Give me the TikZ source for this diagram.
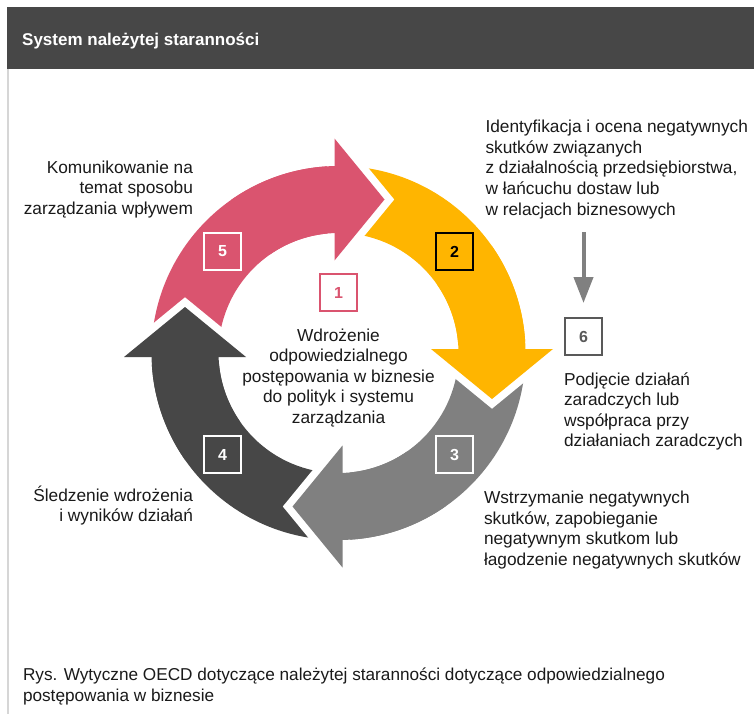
\documentclass[tikz,border=0pt]{standalone}
\usepackage{fontspec}
\setmainfont{Liberation Sans}
\usetikzlibrary{arrows.meta}
\definecolor{pinkc}{HTML}{DA546F}
\definecolor{yellowc}{HTML}{FFB500}
\definecolor{grayc}{HTML}{808080}
\definecolor{darkc}{HTML}{474747}
\definecolor{headc}{HTML}{474747}
\definecolor{textc}{HTML}{1A1A1A}
\definecolor{borderc}{HTML}{D6D6D6}
\definecolor{boxsix}{HTML}{595959}
\begin{document}
\begin{tikzpicture}[x=1pt,y=1pt,
  txt/.style={font=\fontsize{17.3}{20.6}\selectfont, text=textc, inner sep=0pt, outer sep=0pt},
  numbox/.style={draw, line width=2pt, minimum size=37pt, inner sep=0pt, font=\bfseries\fontsize{16}{16}\selectfont},
  headpath/.style={insert path={(-4,92.5) -- (-4,214.5) -- (46,153.5) -- cycle}},
  smallarrow/.style={draw=grayc, line width=4pt, -{Triangle[width=19pt,length=26pt]}}
]
\useasboundingbox (0,0) rectangle (754,-714);
\fill[white] (0,0) rectangle (754,-714);
% header
\fill[headc] (7,-7) rectangle (754,-69);
\node[anchor=base west, inner sep=0pt, text=white, font=\bfseries\fontsize{17}{20}\selectfont] (title) at (22,-45.7) {System należytej staranności};
\draw[borderc, line width=2pt] (8.3,-69) -- (8.3,-714);
% ring bodies
\foreach \k/\col in {0/pinkc,1/yellowc,2/grayc,3/darkc}{
  \fill[\col, shift={(338.5,-353)}, rotate=-90*\k]
    (180:187) arc[start angle=180, end angle=90, radius=187]
    -- (90:120) arc[start angle=90, end angle=180, radius=120] -- cycle;
}
% heads with white gaps
\foreach \k/\col in {0/pinkc,1/yellowc,2/grayc,3/darkc}{
  \begin{scope}[shift={(338.5,-353)}, rotate=-90*\k]
    \filldraw[white, line width=15pt, line join=miter, miter limit=10, headpath];
    \fill[\col, headpath];
    \fill[\col] (125:187) arc[start angle=125, end angle=90, radius=187]
      -- (90:120) arc[start angle=90, end angle=125, radius=120] -- cycle;
  \end{scope}
}
% number boxes
\node[numbox, draw=white, text=white] (b5) at (222.5,-251.5) {5};
\node[numbox, draw=black, text=black] (b2) at (454.5,-251.5) {2};
\node[numbox, draw=white, text=white] (b3) at (454.5,-454.5) {3};
\node[numbox, draw=white, text=white] (b4) at (222.5,-454.5) {4};
\node[numbox, draw=pinkc, text=pinkc] (b1) at (338.5,-292.5) {1};
\node[numbox, draw=boxsix, text=boxsix] (b6) at (583.5,-336.5) {6};
% small arrow to 6
\coordinate (a6top) at (583.5,-232);
\draw[smallarrow] (a6top) -- ([yshift=14pt]b6.north);
% texts
\node[txt, anchor=north east, align=right] (t5) at (193,-173)
  {\smash{Komunikowanie na}\\temat sposobu\\zarządzania wpływem};
\node[txt, anchor=north west, align=left] (t2) at (485.5,-132.7)
  {\smash{Identyfikacja i ocena negatywnych}\\skutków związanych\\z działalnością przedsiębiorstwa,\\w łańcuchu dostaw lub\\w relacjach biznesowych};
\node[txt, anchor=north west, align=left] (t6) at (564,-385)
  {\smash{Podjęcie działań}\\zaradczych lub\\współpraca przy\\działaniach zaradczych};
\node[txt, anchor=north west, align=left] (t3) at (484,-503.5)
  {\smash{Wstrzymanie negatywnych}\\skutków, zapobieganie\\negatywnym skutkom lub\\łagodzenie negatywnych skutków};
\node[txt, anchor=north east, align=right] (t4) at (193,-501)
  {\smash{Śledzenie wdrożenia}\\i wyników działań};
\node[txt, anchor=north, align=center] (t1) at (338.5,-341)
  {\smash{Wdrożenie}\\odpowiedzialnego\\postępowania w biznesie\\do polityk i systemu\\zarządzania};
\node[txt, anchor=north west, align=left, font=\fontsize{17.2}{21.8}\selectfont] (cap) at (23,-680)
  {\smash{Rys. Wytyczne OECD dotyczące należytej staranności dotyczące odpowiedzialnego}\\postępowania w biznesie};
\end{tikzpicture}
\end{document}
